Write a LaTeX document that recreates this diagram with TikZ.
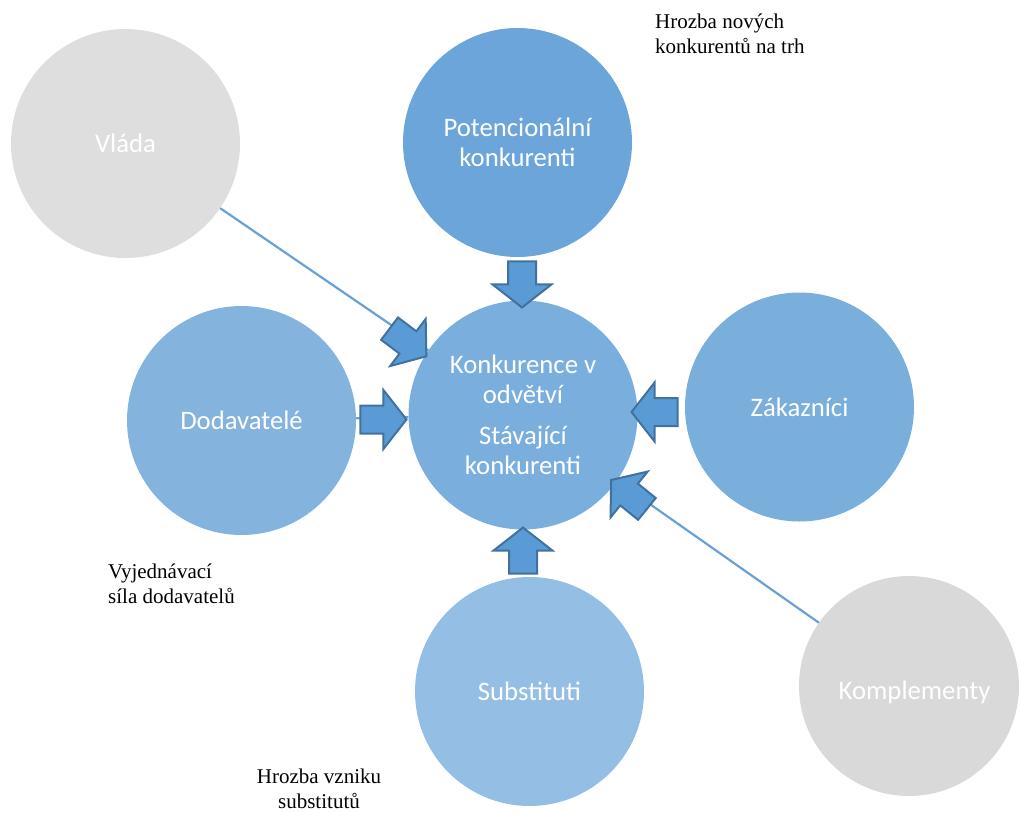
\documentclass[tikz,border=0pt]{standalone}
\usepackage{fontspec}
\setmainfont{Liberation Serif}
\newfontfamily\circfont{Carlito}
\usetikzlibrary{shapes.arrows}
\definecolor{govgrey}{RGB}{222,222,222}
\definecolor{compgrey}{RGB}{217,217,217}
\definecolor{potblue}{RGB}{107,165,218}
\definecolor{coreblue}{RGB}{122,174,220}
\definecolor{supblue}{RGB}{132,180,222}
\definecolor{custblue}{RGB}{122,174,219}
\definecolor{subblue}{RGB}{148,190,228}
\definecolor{pushblue}{RGB}{91,155,213}
\definecolor{pushline}{RGB}{65,113,156}
\definecolor{linkblue}{RGB}{106,160,216}

\begin{document}
\begin{tikzpicture}[x=1pt, y=-1pt,
    force/.style={circle, inner sep=0pt, minimum size=229pt, text=white,
      align=center, font=\circfont\fontsize{26.7}{30}\selectfont},
    link/.style={draw=linkblue, line width=2.2pt},
    push/.style={single arrow, draw=pushline, fill=pushblue, line width=2pt,
      inner xsep=0pt, inner ysep=13pt, text height=0pt, text depth=0pt,
      minimum height=46pt, single arrow head extend=15.5pt,
      single arrow tip angle=104},
    note/.style={inner sep=0pt, font=\fontsize{21}{25}\selectfont}]

    \useasboundingbox (0, 0) rectangle (1020, 812);

    \node[force, fill=govgrey] (vlada) at (125.5, 143.5) {Vláda};
    \node[force, fill=potblue] (pot) at (517.5, 142.5) {Potencionální\\konkurenti};
    \node[force, fill=coreblue] (core) at (523, 415)
        {Konkurence v\\odvětví\\[11pt]Stávající\\konkurenti};
    \node[force, fill=supblue] (dod) at (241.5, 420.5) {Dodavatelé};
    \node[force, fill=custblue] (zak) at (799.5, 407) {Zákazníci};
    \node[force, fill=subblue] (sub) at (529.5, 691.5) {Substituti};
    \node[force, fill=compgrey, minimum size=220pt] (komp) at (909, 686)
        {\raisebox{-13pt}[0pt][0pt]{\hspace{11pt}Komplementy}};

    \draw[link] (vlada) -- (core);
    \draw[link] (komp) -- (core);
    \draw[link] (dod) -- (core);

    \node[push, rotate=-90] (aTop) at (522, 279) {};
    \node[push] (aLeft) at (378, 419.5) {};
    \node[push, rotate=180] (aRight) at (660, 412) {};
    \node[push, rotate=90] (aBottom) at (523, 556) {};
    \node[push, rotate=-37] (aGov) at (403.6, 339.2) {};
    \node[push, rotate=141] (aComp) at (633.3, 497.9) {};

    \node[note, anchor=north west, align=left] (newThreat) at (655, 13.5)
        {Hrozba nových\\konkurentů na trh};
    \node[note, anchor=north west, align=left] (supPower) at (108, 563.5)
        {Vyjednávací\\síla dodavatelů};
    \node[note, anchor=north, align=center] (subThreat) at (319, 769)
        {Hrozba vzniku\\substitutů};
\end{tikzpicture}
\end{document}
